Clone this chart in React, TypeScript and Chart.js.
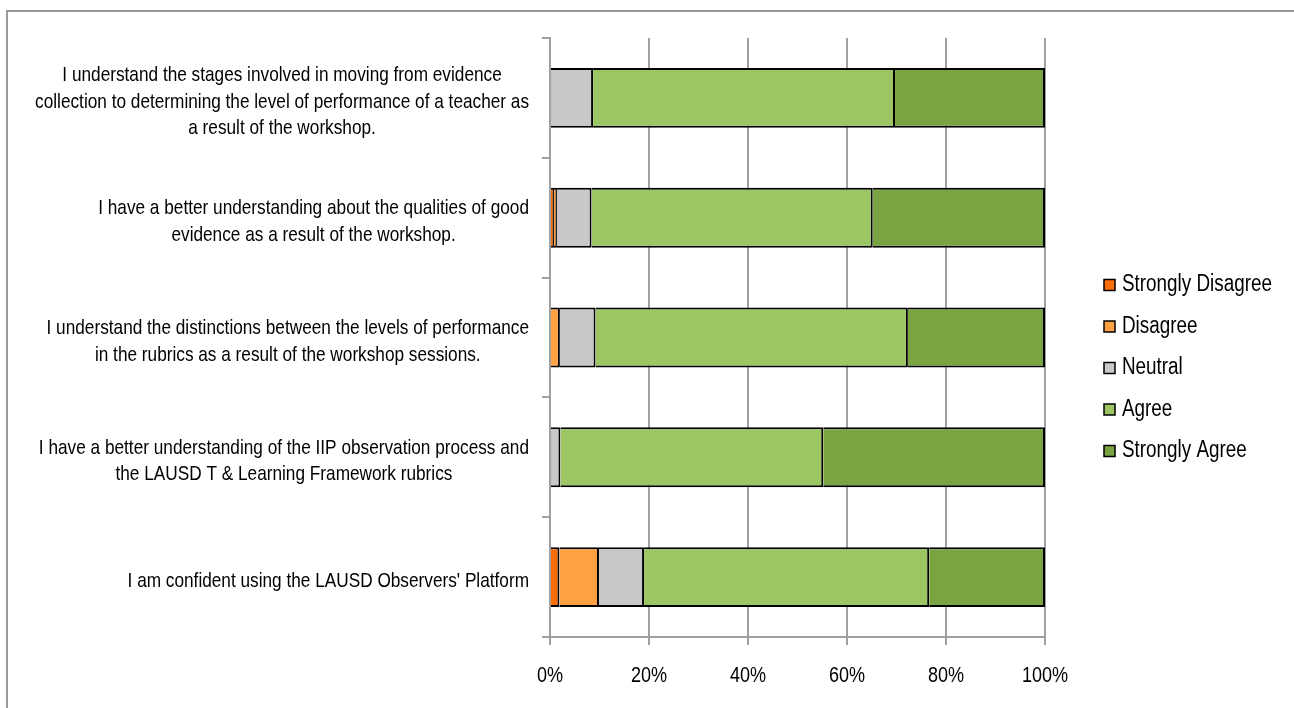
import React, { useEffect, useRef } from "react";
import { Chart, registerables } from "chart.js";

Chart.register(...registerables);

// Survey statements, one array entry per wrapped line
const statements: string[][] = [
  [
    "I understand the stages involved in moving from evidence",
    "collection to determining the level of performance of a teacher as",
    "a result of the workshop.",
  ],
  [
    "I have a better understanding about the qualities of good",
    "evidence as a result of the workshop.",
  ],
  [
    "I understand the distinctions between the levels of performance",
    "in the rubrics as a result of the workshop sessions.",
  ],
  [
    "I have a better understanding of the IIP observation process and",
    "the LAUSD T & Learning Framework rubrics",
  ],
  ["I am confident using the LAUSD Observers' Platform"],
];

const responseLevels = [
  "Strongly Disagree",
  "Disagree",
  "Neutral",
  "Agree",
  "Strongly Agree",
];

// Share of responses (%) per statement
const stronglyDisagree = [0, 0.8, 0, 0, 1.9];
const disagree = [0, 0.6, 2.0, 0, 8.0];
const neutral = [8.7, 7.0, 7.2, 2.1, 9.1];
const agree = [61.0, 56.8, 63.1, 53.1, 57.6];
const stronglyAgree = [30.3, 34.8, 27.7, 44.8, 23.4];

const levelColors = ["#ff6d05", "#ffa042", "#c8c8c8", "#9cc664", "#7aa342"];

const xTickValues = [0, 20, 40, 60, 80, 100];
const xTickLabels = ["0%", "20%", "40%", "60%", "80%", "100%"];

const FONT = '"Liberation Sans", Arial, sans-serif';
const CONDENSE = 0.82; // horizontal squeeze for a narrow sans look
const AXIS_GRAY = "#a0a0a0";

function drawNarrowText(
  ctx: CanvasRenderingContext2D,
  text: string,
  x: number,
  y: number,
  align: CanvasTextAlign
) {
  ctx.save();
  ctx.translate(x, y);
  ctx.scale(CONDENSE, 1);
  ctx.textAlign = align;
  ctx.fillText(text, 0, 0);
  ctx.restore();
}

// Multi-line category labels: each block is right-aligned to the axis,
// lines centred within the block.
const statementLabels = {
  id: "statementLabels",
  afterDraw(chart: any) {
    const { ctx, chartArea, scales } = chart;
    const yScale = scales.y;
    const lineHeight = 26.5;
    ctx.save();
    ctx.font = `21px ${FONT}`;
    ctx.fillStyle = "#000";
    ctx.textBaseline = "middle";
    statements.forEach((lines, i) => {
      const cy = yScale.getPixelForValue(i) + 4;
      const widest =
        Math.max(...lines.map((l) => ctx.measureText(l).width)) * CONDENSE;
      const cx = chartArea.left - 21 - widest / 2;
      lines.forEach((line, j) => {
        drawNarrowText(
          ctx,
          line,
          cx,
          cy + (j - (lines.length - 1) / 2) * lineHeight,
          "center"
        );
      });
    });
    ctx.restore();
  },
};

// Percentage labels under the value axis
const percentLabels = {
  id: "percentLabels",
  afterDraw(chart: any) {
    const { ctx, chartArea, scales } = chart;
    const xScale = scales.x;
    ctx.save();
    ctx.font = `22px ${FONT}`;
    ctx.fillStyle = "#000";
    ctx.textBaseline = "middle";
    xTickValues.forEach((v, i) => {
      drawNarrowText(
        ctx,
        xTickLabels[i],
        xScale.getPixelForValue(v),
        chartArea.bottom + 39,
        "center"
      );
    });
    ctx.restore();
  },
};

// Legend to the right of the plot with small bordered swatches
const sideLegend = {
  id: "sideLegend",
  afterDraw(chart: any) {
    const { ctx, chartArea } = chart;
    const x0 = chartArea.right + 59;
    const spacing = 41.5;
    const mid = (chartArea.top + chartArea.bottom) / 2 + 30.5;
    const n = chart.data.datasets.length;
    ctx.save();
    ctx.font = `23px ${FONT}`;
    ctx.textBaseline = "middle";
    chart.data.datasets.forEach((ds: any, i: number) => {
      const cy = mid + (i - (n - 1) / 2) * spacing;
      ctx.fillStyle = ds.backgroundColor;
      ctx.fillRect(x0, cy - 5.5, 11, 11);
      ctx.lineWidth = 1.5;
      ctx.strokeStyle = "#000";
      ctx.strokeRect(x0, cy - 5.5, 11, 11);
      ctx.fillStyle = "#000";
      drawNarrowText(ctx, ds.label, x0 + 18, cy, "left");
    });
    ctx.restore();
  },
};

export default function App() {
  const canvasRef = useRef<HTMLCanvasElement | null>(null);

  useEffect(() => {
    const canvas = canvasRef.current;
    if (!canvas) return;
    const series = [stronglyDisagree, disagree, neutral, agree, stronglyAgree];
    const chart = new Chart(canvas, {
      type: "bar",
      data: {
        labels: statements.map((lines) => lines.join(" ")),
        datasets: responseLevels.map((label, i) => ({
          label,
          data: series[i],
          backgroundColor: levelColors[i],
          borderColor: "#000",
          borderWidth: 2,
          borderSkipped: "start",
          barPercentage: 1,
          categoryPercentage: 0.5,
        })),
      },
      options: {
        indexAxis: "y",
        animation: false,
        responsive: false,
        events: [],
        layout: { padding: { top: 38, right: 249, bottom: 0, left: 0 } },
        plugins: {
          legend: { display: false },
          tooltip: { enabled: false },
          title: { display: false },
        },
        scales: {
          x: {
            type: "linear",
            stacked: true,
            min: 0,
            max: 100,
            afterBuildTicks: (scale: any) => {
              scale.ticks = xTickValues.map((value) => ({ value }));
            },
            afterFit: (scale: any) => {
              scale.height = 71;
            },
            ticks: { display: false },
            grid: {
              color: AXIS_GRAY,
              lineWidth: 2,
              drawTicks: true,
              tickLength: 8,
            },
            border: { display: true, color: AXIS_GRAY, width: 2 },
          },
          y: {
            type: "category",
            stacked: true,
            afterFit: (scale: any) => {
              scale.width = 550;
            },
            ticks: { display: false },
            grid: {
              offset: true,
              drawOnChartArea: false,
              drawTicks: true,
              tickLength: 8,
              color: AXIS_GRAY,
              lineWidth: 2,
            },
            border: { display: true, color: AXIS_GRAY, width: 2 },
          },
        },
      },
      plugins: [statementLabels, percentLabels, sideLegend],
    } as any);
    return () => chart.destroy();
  }, []);

  return (
    <div
      style={{
        position: "fixed",
        left: 0,
        top: 0,
        width: 1294,
        height: 708,
        overflow: "hidden",
        background: "#fff",
      }}
    >
      <div
        style={{
          position: "absolute",
          left: 6,
          top: 10,
          width: 1400,
          height: 800,
          border: "2px solid #999",
          boxSizing: "border-box",
        }}
      />
      <canvas
        ref={canvasRef}
        width={1294}
        height={708}
        style={{ position: "absolute", left: 0, top: 0 }}
      />
    </div>
  );
}
